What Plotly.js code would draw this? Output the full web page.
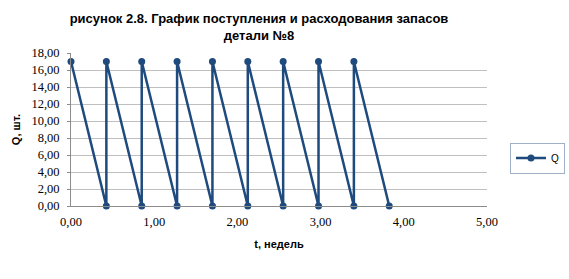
<!DOCTYPE html>
<html>
<head>
<meta charset="utf-8">
<script src="https://cdn.plot.ly/plotly-3.0.1.min.js"></script>
<style>html,body{margin:0;padding:0;background:#fff;}#chart{width:569px;height:279px;}</style>
</head>
<body>
<div id="chart"></div>
<script>
// Data: time (weeks) and stock level Q (pcs)
const tWeeks = [0, 0.425, 0.425, 0.85, 0.85, 1.275, 1.275, 1.7, 1.7, 2.125, 2.125, 2.55, 2.55, 2.975, 2.975, 3.4, 3.4, 3.825];
const qStock = [17, 0, 17, 0, 17, 0, 17, 0, 17, 0, 17, 0, 17, 0, 17, 0, 17, 0];
const seriesName = 'Q';
const titleText = 'рисунок 2.8. График поступления и расходования запасов<br>детали №8';
const xTitle = 't, недель';
const yTitle = 'Q, шт.';

const lineColor = '#1F4A7E';

const trace = {
  x: tWeeks,
  y: qStock,
  name: seriesName,
  type: 'scatter',
  mode: 'lines+markers',
  line: {color: lineColor, width: 2.5},
  marker: {color: lineColor, size: 7},
  cliponaxis: false
};

const layout = {
  width: 569,
  height: 279,
  margin: {l: 71, r: 82, t: 53, b: 73},
  paper_bgcolor: '#ffffff',
  plot_bgcolor: '#ffffff',
  separators: ',.',
  showlegend: true,
  title: {
    text: titleText,
    font: {family: 'Liberation Sans, Arial, sans-serif', size: 13, color: '#000000', weight: 'bold'},
    x: 259 / 569,
    xanchor: 'center',
    xref: 'container',
    y: 1 - 23 / 279,
    yanchor: 'middle',
    yref: 'container'
  },
  xaxis: {
    range: [0, 5],
    dtick: 1,
    tick0: 0,
    tickformat: '.2f',
    showgrid: false,
    zeroline: false,
    showline: true,
    linecolor: '#8C8C8C',
    linewidth: 1,
    ticks: '',
    ticklabelstandoff: 4,
    tickfont: {family: 'Liberation Serif, Times New Roman, serif', size: 12.5, color: '#000000'},
    title: {
      text: xTitle,
      font: {family: 'Liberation Sans, Arial, sans-serif', size: 11, color: '#000000', weight: 'bold'},
      standoff: 12
    }
  },
  yaxis: {
    range: [0, 18],
    dtick: 2,
    tick0: 0,
    tickformat: '.2f',
    showgrid: true,
    gridcolor: '#BFBFBF',
    gridwidth: 1,
    zeroline: false,
    showline: true,
    linecolor: '#8C8C8C',
    linewidth: 1,
    ticks: 'outside',
    ticklen: 3,
    tickcolor: '#8C8C8C',
    ticklabelstandoff: 5,
    tickfont: {family: 'Liberation Serif, Times New Roman, serif', size: 12.5, color: '#000000'},
    title: {
      text: yTitle,
      font: {family: 'Liberation Sans, Arial, sans-serif', size: 11, color: '#000000', weight: 'bold'},
      standoff: 8
    }
  },
  legend: {
    xref: 'container',
    yref: 'container',
    x: 510 / 569,
    xanchor: 'left',
    y: 1 - 158 / 279,
    yanchor: 'middle',
    bordercolor: '#9EAFC6',
    borderwidth: 1,
    bgcolor: '#ffffff',
    font: {family: 'Liberation Sans, Arial, sans-serif', size: 10, color: '#000000'},
    itemwidth: 30,
    tracegroupgap: 0
  }
};

Plotly.newPlot('chart', [trace], layout, {displayModeBar: false, staticPlot: true});
</script>
</body>
</html>
